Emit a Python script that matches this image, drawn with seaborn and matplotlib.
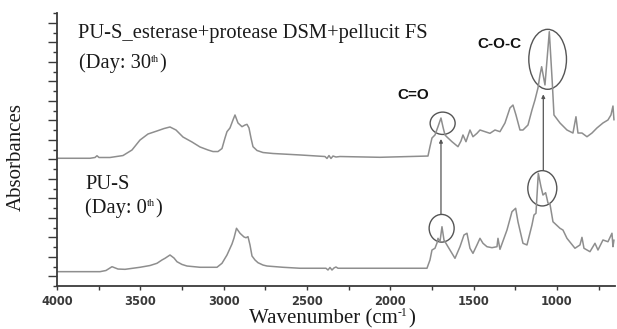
import numpy as np
import pandas as pd
import seaborn as sns
import matplotlib
matplotlib.use("Agg")
import matplotlib.pyplot as plt
from matplotlib.patches import Ellipse
from matplotlib.ticker import MultipleLocator, FixedLocator, NullFormatter

# ---- data (wavenumber cm-1, absorbance in arbitrary units) ----
top_wn = [4000, 3802, 3772, 3760, 3748, 3682, 3604, 3550, 3502, 3454, 3400, 3358, 3322, 3286,
          3244, 3190, 3142, 3094, 3064, 3034, 3010, 2992, 2980, 2962, 2944, 2932, 2914, 2890,
          2872, 2860, 2848, 2836, 2824, 2800, 2764, 2704, 2542, 2392, 2380, 2368, 2356, 2344,
          2326, 2302, 2062, 1774, 1762, 1750, 1732, 1714, 1696, 1684, 1672, 1660, 1630, 1594,
          1576, 1564, 1546, 1522, 1504, 1480, 1462, 1432, 1402, 1372, 1342, 1312, 1282, 1264,
          1246, 1222, 1204, 1174, 1150, 1132, 1114, 1102, 1092, 1072, 1046, 1028, 1018, 982,
          940, 904, 886, 874, 850, 820, 790, 760, 724, 694, 676, 664, 658]
top_abs = [13.10, 13.10, 13.18, 13.36, 13.18, 13.18, 13.38, 13.95, 14.97, 15.59, 15.90, 16.15,
           16.31, 16.00, 15.28, 14.77, 14.26, 13.95, 13.79, 13.79, 14.10, 15.18, 15.83, 16.21,
           17.03, 17.54, 16.72, 16.34, 16.51, 16.58, 16.21, 15.18, 14.29, 13.90, 13.69, 13.59,
           13.44, 13.28, 13.08, 13.38, 13.08, 13.33, 13.23, 13.28, 13.20, 13.33, 14.29, 15.18,
           15.49, 16.34, 17.23, 16.31, 15.49, 15.28, 14.80, 14.29, 14.87, 15.49, 14.80, 16.00,
           15.31, 15.66, 16.00, 15.83, 15.66, 16.00, 15.83, 16.72, 18.26, 18.56, 17.54, 16.00,
           16.00, 16.51, 18.05, 19.08, 20.31, 21.64, 22.49, 20.62, 26.08, 20.82, 17.54, 16.72,
           16.00, 15.69, 17.36, 15.69, 15.69, 15.31, 15.69, 16.21, 16.72, 17.03, 17.54, 18.46,
           17.03]

bot_wn = [4000, 3742, 3706, 3670, 3634, 3592, 3502, 3442, 3400, 3370, 3352, 3322, 3298, 3280,
          3250, 3220, 3142, 3040, 3010, 2980, 2950, 2938, 2923, 2902, 2878, 2866, 2854, 2842,
          2830, 2812, 2794, 2764, 2740, 2644, 2542, 2386, 2374, 2362, 2350, 2338, 2326, 2314,
          2062, 1780, 1762, 1750, 1732, 1720, 1714, 1702, 1690, 1678, 1654, 1612, 1582, 1558,
          1540, 1522, 1504, 1480, 1462, 1444, 1420, 1390, 1360, 1354, 1342, 1300, 1270, 1248,
          1234, 1204, 1180, 1150, 1138, 1126, 1112, 1096, 1084, 1068, 1054, 1042, 1024, 982,
          964, 940, 892, 862, 850, 838, 802, 772, 754, 724, 694, 670, 664, 658]
bot_abs = [1.47, 1.47, 1.59, 1.98, 1.74, 1.71, 1.92, 2.10, 2.33, 2.67, 2.84, 3.18, 2.87, 2.49,
           2.21, 2.05, 1.92, 1.92, 2.33, 3.18, 4.31, 4.92, 5.92, 5.41, 5.03, 4.95, 5.06, 4.21,
           3.08, 2.67, 2.39, 2.15, 2.05, 1.92, 1.82, 1.82, 1.64, 1.90, 1.64, 1.85, 1.95, 1.82,
           1.82, 1.82, 2.67, 3.69, 3.87, 4.41, 4.89, 4.54, 6.08, 4.72, 4.03, 2.84, 4.03, 5.23,
           5.41, 3.87, 3.35, 4.21, 4.89, 4.38, 4.03, 3.93, 4.03, 4.89, 3.76, 5.74, 7.62, 7.97,
           6.59, 4.38, 4.21, 6.26, 7.28, 7.46, 11.56, 10.18, 9.33, 9.57, 8.51, 8.41, 6.59, 5.92,
           5.74, 4.89, 3.87, 4.21, 4.99, 3.87, 3.52, 4.38, 3.69, 4.72, 4.54, 5.41, 4.03, 4.72]

x_major = [4000, 3500, 3000, 2500, 2000, 1500, 1000]
x_labels = ["4000", "3500", "3000", "2500", "2000", "1500", "1000"]

top_label = "PU-S_esterase+protease DSM+pellucit FS"
top_day = ["(Day: 30", "th", ")"]
bot_label = "PU-S"
bot_day = ["(Day: 0", "th", ")"]
x_title = ["Wavenumber (cm", "-1", ")"]
y_title = "Absorbances"

# ---- style ----
sns.set_theme(style="ticks")
plt.rcParams["font.family"] = ["Liberation Serif", "DejaVu Serif"]

W, H = 617, 329
fig = plt.figure(figsize=(W / 100, H / 100), dpi=100, facecolor="white")
ax = fig.add_axes([57 / W, 1 - 286 / H, (615.3 - 57) / W, (286 - 13) / H])
ax.set_facecolor("white")

df_top = pd.DataFrame({"wn": top_wn, "abs": top_abs})
df_bot = pd.DataFrame({"wn": bot_wn, "abs": bot_abs})
line_col = "#8e8e8e"
sns.lineplot(data=df_top, x="wn", y="abs", ax=ax, color=line_col, lw=1.1, estimator=None, sort=False)
sns.lineplot(data=df_bot, x="wn", y="abs", ax=ax, color=line_col, lw=1.1, estimator=None, sort=False)

ax.set_xlim(4000, 650)
ax.set_ylim(0, 28)
ax.set_xlabel("")
ax.set_ylabel("")

for s in ["top", "right"]:
    ax.spines[s].set_visible(False)
for s in ["left", "bottom"]:
    ax.spines[s].set_color("#3a3a3a")
    ax.spines[s].set_linewidth(1.3)

ax.xaxis.set_major_locator(FixedLocator(x_major))
ax.set_xticklabels(x_labels, fontfamily="DejaVu Sans", fontweight="bold", fontsize=8.3, color="#3a3a3a")
ax.xaxis.set_minor_locator(MultipleLocator(250))
ax.tick_params(axis="x", which="both", direction="out", length=3, width=1.0, color="#3a3a3a", pad=3.2)

ax.yaxis.set_major_locator(FixedLocator(list(range(1, 28, 2))))
ax.yaxis.set_minor_locator(FixedLocator(list(range(0, 29, 2))))
ax.yaxis.set_major_formatter(NullFormatter())
ax.tick_params(axis="y", which="major", direction="out", length=6.3, width=1.0, color="#3a3a3a")
ax.tick_params(axis="y", which="minor", direction="out", length=3.1, width=1.0, color="#3a3a3a")

# ---- annotations: ellipses and arrows ----
ecol = "#555555"
for (cx, cy, w, h) in [(1686, 16.69, 150, 2.29), (1692, 5.92, 150, 2.84),
                        (1056, 23.25, 226, 6.15), (1088, 10.02, 174, 3.62)]:
    ax.add_patch(Ellipse((cx, cy), w, h, fill=False, edgecolor=ecol, lw=1.0))

for (xw, y0, y1) in [(1696, 7.38, 15.08), (1082, 11.9, 19.66)]:
    ax.annotate("", xy=(xw, y1), xytext=(xw, y0),
                arrowprops=dict(arrowstyle="-|>", color=ecol, lw=0.9, mutation_scale=5,
                                shrinkA=0, shrinkB=0))

ax.text(1860, 19.57, "C=O", fontfamily="Liberation Sans", fontweight="bold", fontsize=11,
        ha="center", va="center", color="#111111")
ax.text(1343, 24.77, "C-O-C", fontfamily="Liberation Sans", fontweight="bold", fontsize=11,
        ha="center", va="center", color="#111111")

# ---- text labels ----
tcol = "#1a1a1a"
fs = 14.8
renderer = fig.canvas.get_renderer()


def seg_text(x_px, base_px, parts, size, sup_size, raise_px, ha="left"):
    """Draw text with a superscript middle part; positions in figure pixels."""
    objs = []
    x = x_px
    for i, p in enumerate(parts):
        is_sup = (i == 1)
        t = fig.text(x / W, 1 - (base_px - (raise_px if is_sup else 0)) / H, p,
                     fontsize=sup_size if is_sup else size, color=tcol,
                     va="baseline", ha="left")
        bb = t.get_window_extent(renderer=renderer)
        x = bb.x1 + (0.5 if is_sup else 0)
        objs.append(t)
    if ha == "center":
        total = x - x_px
        shift = total / 2
        for t in objs:
            px, py = t.get_position()
            t.set_position((px - shift / W, py))
    return objs


fig.text(78 / W, 1 - 38 / H, top_label, fontsize=fs, color=tcol, va="baseline", ha="left")
seg_text(79, 68, top_day, fs, 7.5, 6.5)
fig.text(85 / W, 1 - 189 / H, bot_label, fontsize=fs, color=tcol, va="baseline", ha="left")
seg_text(85, 213, bot_day, fs, 7.5, 6.5)

fig.text(16 / W, 1 - 157 / H, y_title, fontsize=15, color=tcol, rotation=90,
         ha="center", va="center")
seg_text(332, 323, x_title, 15, 8.5, 7, ha="center")

fig.savefig("out.png", dpi=100, facecolor="white")
